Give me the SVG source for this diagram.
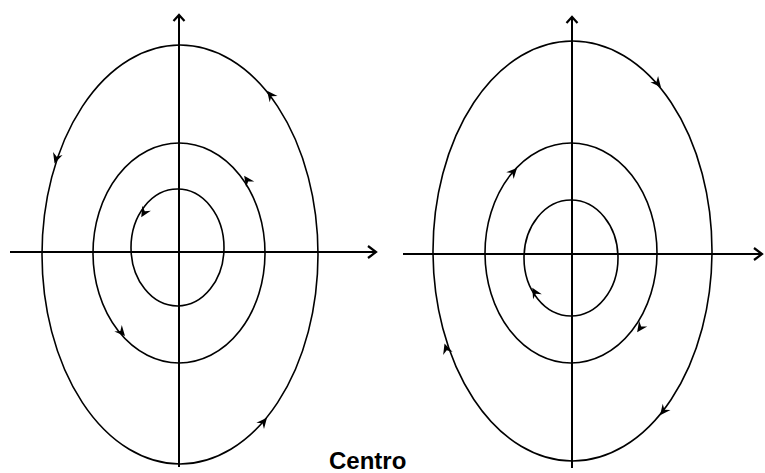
<svg xmlns="http://www.w3.org/2000/svg" width="765" height="473" viewBox="0 0 765 473" xmlns:xlink="http://www.w3.org/1999/xlink">
<style>
.axis{stroke:#000;stroke-width:2;fill:none}
.orb{stroke:#000;stroke-width:1.6;fill:none}
.chev{stroke:#000;stroke-width:2.2;fill:none;stroke-linejoin:miter}
.lbl{font-family:"Liberation Sans",Arial,sans-serif;font-weight:bold;font-size:24px;fill:#000}
</style>
<defs>
<path id="ah" d="M1.5,0 L-9,-5 L-5.5,0 L-9,5 Z" fill="#000"/>
<path id="chevUp" d="M-5.5,6 L0,0 L5.5,6" class="chev"/>
<path id="chevRight" d="M-8,-6 L0,0 L-8,6" class="chev"/>
</defs>
<g id="left-portrait">
<g id="left-axes">
<line class="axis" x1="179" y1="16" x2="179" y2="467"/>
<line class="axis" x1="10" y1="252" x2="376" y2="252"/>
<use xlink:href="#chevUp" transform="translate(179,15)"/>
<use xlink:href="#chevRight" transform="translate(376,252)"/>
</g>
<g id="left-orbits">
<ellipse class="orb" cx="180" cy="254.5" rx="138" ry="209.5"/>
<ellipse class="orb" cx="179" cy="253" rx="86" ry="110"/>
<ellipse class="orb" cx="177.5" cy="247.5" rx="46.5" ry="58.5"/>
</g>
<g id="left-arrows">
<use xlink:href="#ah" transform="translate(268,92) rotate(-128.4)"/>
<use xlink:href="#ah" transform="translate(55,162) rotate(108.1)"/>
<use xlink:href="#ah" transform="translate(266,419) rotate(-49.8)"/>
<use xlink:href="#ah" transform="translate(245,177) rotate(-125.1)"/>
<use xlink:href="#ah" transform="translate(124,335) rotate(48.5)"/>
<use xlink:href="#ah" transform="translate(142,216) rotate(120.7)"/>
</g>
</g>
<g id="right-portrait">
<g id="right-axes">
<line class="axis" x1="572" y1="18" x2="572" y2="468"/>
<line class="axis" x1="403" y1="254" x2="762" y2="254"/>
<use xlink:href="#chevUp" transform="translate(572,17)"/>
<use xlink:href="#chevRight" transform="translate(762,254)"/>
</g>
<g id="right-orbits">
<ellipse class="orb" cx="572.5" cy="251" rx="139.5" ry="210"/>
<ellipse class="orb" cx="571" cy="253" rx="86" ry="110"/>
<ellipse class="orb" cx="571" cy="258" rx="47" ry="58"/>
</g>
<g id="right-arrows">
<use xlink:href="#ah" transform="translate(660,86) rotate(50.1)"/>
<use xlink:href="#ah" transform="translate(445,345) rotate(-108.6)"/>
<use xlink:href="#ah" transform="translate(661,414) rotate(128.6)"/>
<use xlink:href="#ah" transform="translate(516,169) rotate(-47.8)"/>
<use xlink:href="#ah" transform="translate(638,331) rotate(125.1)"/>
<use xlink:href="#ah" transform="translate(533,289) rotate(-119.6)"/>
</g>
</g>
<text class="lbl" x="329" y="469">Centro</text>
</svg>
